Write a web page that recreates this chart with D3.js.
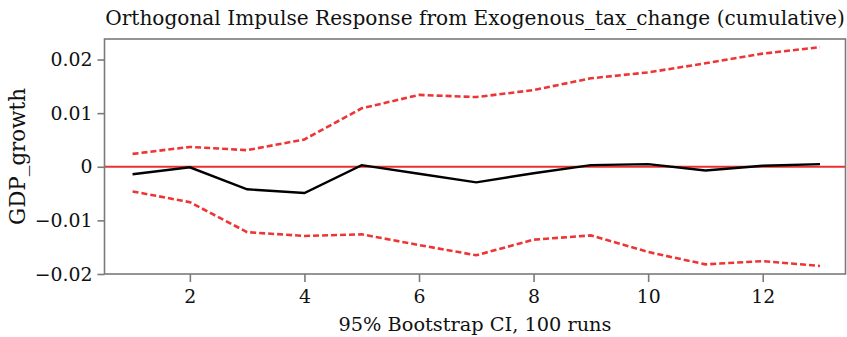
<!DOCTYPE html>
<html>
<head>
<meta charset="utf-8">
<script src="https://cdn.jsdelivr.net/npm/d3@7"></script>
<style>
  body { margin: 0; background: #fff; }
</style>
</head>
<body>
<svg id="chart"></svg>
<script>
// periods after the shock
const steps = [1, 2, 3, 4, 5, 6, 7, 8, 9, 10, 11, 12, 13];
// cumulative response of GDP_growth
const response = [-0.0014, -0.0001, -0.0042, -0.0049, 0.0003, -0.0013, -0.0029, -0.0012, 0.0003, 0.0005, -0.0007, 0.0002, 0.0005];
// bootstrap band
const upperCI = [0.0024, 0.0037, 0.0031, 0.0051, 0.0109, 0.0134, 0.0130, 0.0143, 0.0165, 0.0176, 0.0193, 0.0211, 0.0223];
const lowerCI = [-0.0046, -0.0066, -0.0122, -0.0129, -0.0126, -0.0146, -0.0165, -0.0136, -0.0128, -0.0159, -0.0182, -0.0176, -0.0185];
const xTicks = [2, 4, 6, 8, 10, 12];
const yTicks = [-0.02, -0.01, 0, 0.01, 0.02];

const FONT = "'Palatino Linotype', 'Book Antiqua', Palatino, 'DejaVu Serif', serif";

const W = 847, H = 337;
const margin = { top: 39, right: 1.5, bottom: 63, left: 104.5 };
const width = W - margin.left - margin.right,
      height = H - margin.top - margin.bottom;

const svg = d3.select("#chart")
    .attr("width", W)
    .attr("height", H)
    .attr("font-family", FONT);

const g = svg.append("g")
    .attr("transform", `translate(${margin.left},${margin.top})`);

const x = d3.scaleLinear()
    .domain([0.51, 13.445])
    .range([0, width]);

const y = d3.scaleLinear()
    .domain([-0.02, 0.02383])
    .range([height, 0]);

const line = d3.line()
    .x((d, i) => x(steps[i]))
    .y(d => y(d));

// zero line
g.append("line")
    .attr("x1", 0).attr("x2", width)
    .attr("y1", y(0)).attr("y2", y(0))
    .attr("stroke", "#e8322f")
    .attr("stroke-width", 2);

// confidence band
[upperCI, lowerCI].forEach(ci => {
    g.append("path")
        .datum(ci)
        .attr("d", line)
        .attr("fill", "none")
        .attr("stroke", "#ee3535")
        .attr("stroke-width", 2.6)
        .attr("stroke-dasharray", "6,3");
});

g.append("path")
    .datum(response)
    .attr("d", line)
    .attr("fill", "none")
    .attr("stroke", "#000")
    .attr("stroke-width", 2.4);

// frame
g.append("rect")
    .attr("width", width)
    .attr("height", height)
    .attr("fill", "none")
    .attr("stroke", "#7a7a7a")
    .attr("stroke-width", 1.6);

const yAxis = g.append("g")
    .call(d3.axisLeft(y).tickValues(yTicks).tickSize(7).tickPadding(5)
        .tickFormat(d => d === 0 ? "0" : d3.format(".2f")(d).replace("-", "\u2212")));

const xAxis = g.append("g")
    .attr("transform", `translate(0,${height})`)
    .call(d3.axisBottom(x).tickValues(xTicks).tickSize(8).tickPadding(8));

// shrink a label's font until it spans roughly the width seen in the picture
function fit(sel, target) {
    const node = sel.node();
    const w = node.getComputedTextLength();
    const fs = parseFloat(sel.style("font-size"));
    sel.style("font-size", (fs * target / w).toFixed(2) + "px");
}

// font size taken from the "0.02" label, about 42px wide
const probe = svg.append("text").style("font-size", "20px").text("0.02");
fit(probe, 42);
const tickSize = probe.style("font-size");
probe.remove();

[yAxis, xAxis].forEach(ax => {
    ax.attr("font-family", FONT);
    ax.select(".domain").remove();
    ax.selectAll(".tick line").attr("stroke", "#7a7a7a").attr("stroke-width", 1.6);
    ax.selectAll(".tick text")
        .attr("fill", "#111")
        .style("font-size", tickSize);
});

const title = svg.append("text")
    .attr("x", margin.left + width / 2)
    .attr("y", 25)
    .attr("text-anchor", "middle")
    .attr("fill", "#111")
    .style("font-size", "20px")
    .text("Orthogonal Impulse Response from Exogenous_tax_change (cumulative)");
fit(title, 740);

const xLabel = svg.append("text")
    .attr("x", margin.left + width / 2)
    .attr("y", 331)
    .attr("text-anchor", "middle")
    .attr("fill", "#111")
    .style("font-size", "20px")
    .text("95% Bootstrap CI, 100 runs");
fit(xLabel, 273);

const yLabel = svg.append("text")
    .attr("transform", `translate(25,${margin.top + height / 2}) rotate(-90)`)
    .attr("text-anchor", "middle")
    .attr("fill", "#111")
    .style("font-size", "20px")
    .text("GDP_growth");
fit(yLabel, 137);
</script>
</body>
</html>
